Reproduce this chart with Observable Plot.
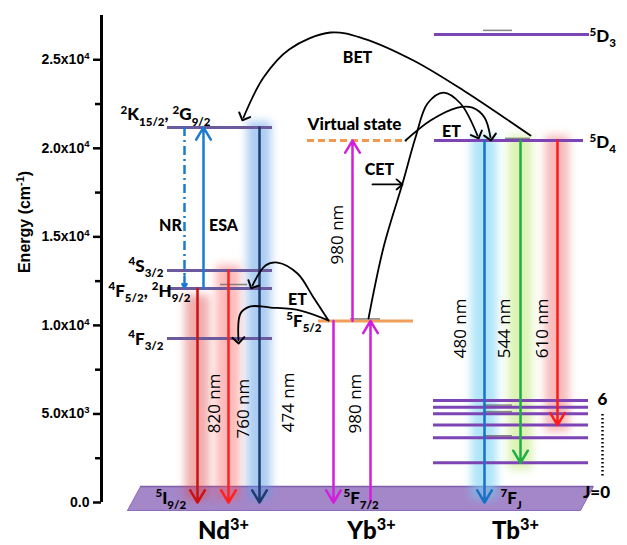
<!DOCTYPE html>
<html><head><meta charset="utf-8">
<script src="https://cdn.jsdelivr.net/npm/d3@7"></script>
<script src="https://cdn.jsdelivr.net/npm/@observablehq/plot@0.6"></script>
<style>body{margin:0;background:#fff}svg{display:block}</style>
</head><body><div id="chart"></div>
<script>
// ================= DATA (energies in cm^-1) =================
const yTickValues = [0, 5000, 10000, 15000, 20000, 25000];
const yTickLabels = ["0.0", "5.0x10^{3}", "1.0x10^{4}", "1.5x10^{4}", "2.0x10^{4}", "2.5x10^{4}"];
const yMinorTicks = [2500, 7500, 12500, 17500, 22500];
const yTitle = "Energy (cm^{-1})";

const ionNames = ["Nd^{3+}", "Yb^{3+}", "Tb^{3+}"];
const groundNames = ["^{5}I_{9/2}", "^{5}F_{7/2}", "^{7}F_{J}"];

const ndLevelNames = ["^{2}K_{15/2}, ^{2}G_{9/2}", "^{4}S_{3/2}", "^{4}F_{5/2}, ^{2}H_{9/2}", "^{4}F_{3/2}"];
const ndLevelEnergies = [21180, 13100, 12080, 9260];
const ybLevelNames = ["^{5}F_{5/2}"];
const ybLevelEnergies = [10250];
const virtualStateName = "Virtual state";
const virtualStateEnergy = 20440;
const tbUpperNames = ["^{5}D_{3}", "^{5}D_{4}"];
const tbUpperEnergies = [26430, 20440];
const tbLowerEnergies = [5760, 5380, 5010, 4370, 3650, 2240];   // 7F6 ... 7F0
const tbLowerNames = ["6", "J=0"];

const transitionNames = ["ESA", "NR", "820 nm", "760 nm", "474 nm", "980 nm", "980 nm", "980 nm", "480 nm", "544 nm", "610 nm"];
const transitionFrom  = [12080, 21180, 12080, 13100, 21180, 10250, 0, 10250, 20440, 20440, 20440];
const transitionTo    = [21180, 12080, 0, 0, 0, 20440, 10250, 0, 0, 2240, 4370];

const processNames = ["NR", "ESA", "BET", "ET", "CET", "ET"];

// ================= LAYOUT / STYLE =================
const purpleNd = "#6c5a9f", purpleTb = "#7c44b5", orange = "#f0a05a";
const boldFont = "Lato, 'Liberation Sans', sans-serif";
const axisFont = "'Liberation Sans', Arial, sans-serif";
const tfl = [ // per transition: x, color, width, insets, label x / label energy, glow
  {x: 203, c: "#1b7bd0", w: 2.5, is: 0, ie: 0},
  {x: 184, c: "#1b7bd0", w: 2.5, is: 3, ie: 1, dash: true},
  {x: 197, c: "#cc1111", w: 2.5, is: 4, ie: 12, lx: 214, ly: 5600, glow: ["#e04848", 0.45, 12, 11700]},
  {x: 228, c: "#ff2020", w: 2.5, is: 0, ie: 12, lx: 243, ly: 5300, glow: ["#ff5050", 0.4, 12, 13400]},
  {x: 259, c: "#1e3b70", w: 2.5, is: 0, ie: 12, lx: 288, ly: 5650, glow: ["#5a9be6", 0.5, 12, 21500]},
  {x: 352, c: "#d21fdc", w: 2.5, is: 8, ie: 5, lx: 337, ly: 15130},
  {x: 370, c: "#d21fdc", w: 2.5, is: 5, ie: 1, lx: 355, ly: 5590},
  {x: 333, c: "#d21fdc", w: 2.5, is: 0, ie: 12},
  {x: 484, c: "#1a70c4", w: 2.5, is: 0, ie: 10, lx: 460, ly: 9830, glow: ["#6fd0f2", 0.55, 13, 20700]},
  {x: 520, c: "#1fae46", w: 2.5, is: 0, ie: 0, lx: 504, ly: 9830, glow: ["#c8eb8c", 0.65, 12, 20700]},
  {x: 557, c: "#ff1a1a", w: 2.5, is: 0, ie: 0, lx: 542, ly: 9830, glow: ["#f07575", 0.5, 12, 20700]}
];
const processPos = [[170, 15610], [223, 15610], [357, 25100], [451, 20950], [379, 18800], [297, 11460]];
const curves = [ // [x, energy] control points of the black energy-transfer curves
  [[530, 20720], [463, 23265], [413, 24960], [363, 26200], [330, 26540], [289, 25600], [263, 24000], [243, 21740]],
  [[368, 10390], [383, 14400], [402, 18010], [415, 20610], [427, 22530], [443, 23150], [460, 22530], [477, 20720]],
  [[405, 20440], [430, 21570], [457, 22300], [472, 22300], [484, 21740], [490, 20610]],
  [[328, 10280], [313, 11580], [297, 12930], [277, 13550], [265, 13380], [252, 12250]],
  [[328, 10280], [300, 10840], [270, 11010], [250, 11070], [240, 10670], [238, 9150]]
];
// faint grey dashes sitting on some levels in the original artwork
const greyDashes = [[483, 512, 26540], [220, 247, 12190], [350, 380, 10250], [505, 530, 20440],
  [483, 512, 5380], [483, 512, 5010], [483, 512, 3650]];

// ================= BUILD =================
const tr = transitionNames.map((n, i) => ({n, from: transitionFrom[i], to: transitionTo[i], ...tfl[i]}));
const ndLevels = ndLevelNames.map((n, i) => ({n, e: ndLevelEnergies[i]}));
const ndLabelX = [210, 163, 190, 163];
const ndLabelDy = [700, 230, -160, -55];
const band = [[127, -450], [140, 900], [593, 900], [580, -450], [127, -450]];
const head = {headLength: 8.5, headAngle: 62};

const marks = [
  // ground band
  Plot.line(band, {x: d => d[0], y: d => d[1], fill: "#a487c9", stroke: "#8c6bb8", strokeWidth: 1}),
  Plot.ruleY([900], {x1: 140, x2: 593, stroke: "#7e5fae", strokeWidth: 1.5}),
  // glows
  ...tr.filter(d => d.glow).map(d => Plot.rect([d], {
    x1: d.x - d.glow[2], x2: d.x + d.glow[2], y1: d.glow[3], y2: d.to === 0 ? 150 : d.to - 400,
    fill: d.glow[0], fillOpacity: d.glow[1]
  })),
  // axis
  Plot.ruleX([101], {y1: 0, y2: 27500, stroke: "black", strokeWidth: 3}),
  Plot.axisY({ticks: yTickValues, tickFormat: d => yTickLabels[yTickValues.indexOf(d)], tickSize: 8, tickPadding: 4,
    strokeWidth: 2.5, fontSize: 14, fontWeight: "bold", fontFamily: axisFont, label: null, color: "black"}),
  Plot.axisY({ticks: yMinorTicks, tickFormat: () => "", tickSize: 6, strokeWidth: 2.5, label: null, color: "black"}),
  Plot.text([yTitle], {x: 24, y: 15840, text: d => d, rotate: -90, fontSize: 16, fontWeight: "bold", fontFamily: axisFont, fill: "black"}),
  // Nd levels
  Plot.ruleY(ndLevels, {y: "e", x1: 167, x2: 272, stroke: purpleNd, strokeWidth: 3}),
  Plot.text(ndLevels, {y: (d, i) => d.e + ndLabelDy[i], x: (d, i) => ndLabelX[i], text: "n", textAnchor: "end", fontSize: 17, fontWeight: 900, fontFamily: boldFont, fill: "black"}),
  // Yb level and virtual state
  Plot.ruleY(ybLevelEnergies, {x1: 318, x2: 413, stroke: orange, strokeWidth: 3}),
  Plot.text(ybLevelNames, {x: 321, y: ybLevelEnergies[0] - 30, text: d => d, textAnchor: "end", fontSize: 17, fontWeight: 900, fontFamily: boldFont, fill: "black"}),
  Plot.ruleY([virtualStateEnergy], {x1: 307, x2: 407, stroke: "#f09850", strokeWidth: 3, strokeDasharray: "7,4"}),
  Plot.text([virtualStateName], {x: 354, y: 21350, text: d => d, fontSize: 17, fontWeight: 900, fontFamily: boldFont, fill: "black"}),
  // Tb levels
  Plot.ruleY(tbUpperEnergies, {x1: 434, x2: (d, i) => i ? 583 : 589, stroke: purpleTb, strokeWidth: 3}),
  Plot.text(tbUpperNames, {x: 589, y: (d, i) => tbUpperEnergies[i] - 130, text: d => d, textAnchor: "start", fontSize: 17, fontWeight: 900, fontFamily: boldFont, fill: "black"}),
  Plot.ruleY(tbLowerEnergies, {x1: 433, x2: 588, stroke: purpleTb, strokeWidth: 3}),
  Plot.text(tbLowerNames, {x: (d, i) => i ? 596 : 602, y: (d, i) => i ? 565 : tbLowerEnergies[0] + 60, text: d => d, textAnchor: (d, i) => i ? "start" : "middle", fontSize: 17, fontWeight: 900, fontFamily: boldFont, fill: "black"}),
  Plot.ruleX([602], {y1: 1500, y2: 5000, stroke: "black", strokeWidth: 2.5, strokeDasharray: "1.5,2.5"}),
  Plot.ruleY(greyDashes, {x1: d => d[0], x2: d => d[1], y: d => d[2] + 120, stroke: "#6a6a6a", strokeWidth: 1.5, strokeOpacity: 0.8}),
  // transitions
  Plot.ruleX(tr.filter(d => d.dash), {x: "x", y1: "from", y2: d => d.to + 700, stroke: "c", strokeWidth: 2.5, strokeDasharray: "9,4,2,4"}),
  Plot.arrow(tr.filter(d => d.dash), {x1: "x", x2: "x", y1: d => d.to + 700, y2: "to", insetEnd: 1, stroke: "c", strokeWidth: 2.5, headLength: 7, headAngle: 62}),
  Plot.arrow(tr.filter(d => !d.dash), {x1: "x", x2: "x", y1: "from", y2: "to", insetStart: "is", insetEnd: "ie", stroke: "c", strokeWidth: 2.5, ...head}),
  Plot.text(tr.filter(d => d.lx), {x: "lx", y: "ly", text: "n", rotate: -90, fontSize: 17, fontFamily: "'Open Sans', sans-serif", fill: "black"}),
  // energy-transfer curves
  ...curves.map(pts => Plot.line(pts, {x: d => d[0], y: d => d[1], curve: "catmull-rom", stroke: "black", strokeWidth: 1.8, markerEnd: "arrow"})),
  Plot.arrow([0], {x1: 372, x2: 402, y1: 17960, y2: 17960, stroke: "black", strokeWidth: 1.8, headLength: 6.5, headAngle: 80}),
  Plot.text(processNames, {x: (d, i) => processPos[i][0], y: (d, i) => processPos[i][1], text: d => d, fontSize: 16, fontWeight: 900, fontFamily: boldFont, fill: "black"}),
  // ground labels and ions
  Plot.text(groundNames, {x: (d, i) => [155, 343, 500][i], y: 250, text: d => d, textAnchor: "start", fontSize: 17, fontWeight: 900, fontFamily: boldFont, fill: "black"}),
  Plot.text(ionNames, {x: (d, i) => [223, 371, 515][i], y: -1640, text: d => d, fontSize: 24, fontWeight: 900, fontFamily: boldFont, fill: "black"})
];

const chart = Plot.plot({
  width: 627, height: 545, marginLeft: 101, marginRight: 0, marginTop: 15, marginBottom: 43,
  x: {domain: [101, 627], axis: null},
  y: {domain: [0, 27500], axis: null},
  style: {background: "white", overflow: "visible", fontFamily: boldFont},
  marks
});
document.getElementById("chart").appendChild(chart);

// blur for glow bands
const NS = "http://www.w3.org/2000/svg";
const defs = document.createElementNS(NS, "defs");
defs.innerHTML = '<filter id="glowblur" x="-60%" y="-10%" width="220%" height="120%"><feGaussianBlur stdDeviation="4.5"/></filter>';
chart.insertBefore(defs, chart.firstChild);
chart.querySelectorAll('g[aria-label="rect"]').forEach(g => g.setAttribute("filter", "url(#glowblur)"));
// bigger arrowheads on curves
chart.querySelectorAll("marker").forEach(m => {
  m.setAttribute("markerWidth", 11); m.setAttribute("markerHeight", 11); m.setAttribute("stroke-width", 1.0);
});
// superscripts / subscripts
chart.querySelectorAll("text").forEach(t => {
  const s = t.textContent;
  if (!/[\^_]\{/.test(s)) return;
  const fs = parseFloat(getComputedStyle(t).fontSize) || 12;
  const parts = []; const re = /([\^_])\{([^}]*)\}/g; let last = 0, m;
  while ((m = re.exec(s))) {
    if (m.index > last) parts.push({t: s.slice(last, m.index), k: 0});
    parts.push({t: m[2], k: m[1] === "^" ? -1 : 1});
    last = re.lastIndex;
  }
  if (last < s.length) parts.push({t: s.slice(last), k: 0});
  while (t.firstChild) t.removeChild(t.firstChild);
  let cur = 0;
  parts.forEach(p => {
    const ts = document.createElementNS(NS, "tspan");
    const target = p.k < 0 ? -0.38 * fs : p.k > 0 ? 0.3 * fs : 0;
    if (target - cur) ts.setAttribute("dy", target - cur);
    if (p.k) ts.setAttribute("font-size", 0.68 * fs);
    ts.textContent = p.t;
    t.appendChild(ts);
    cur = target;
  });
});
</script></body></html>
